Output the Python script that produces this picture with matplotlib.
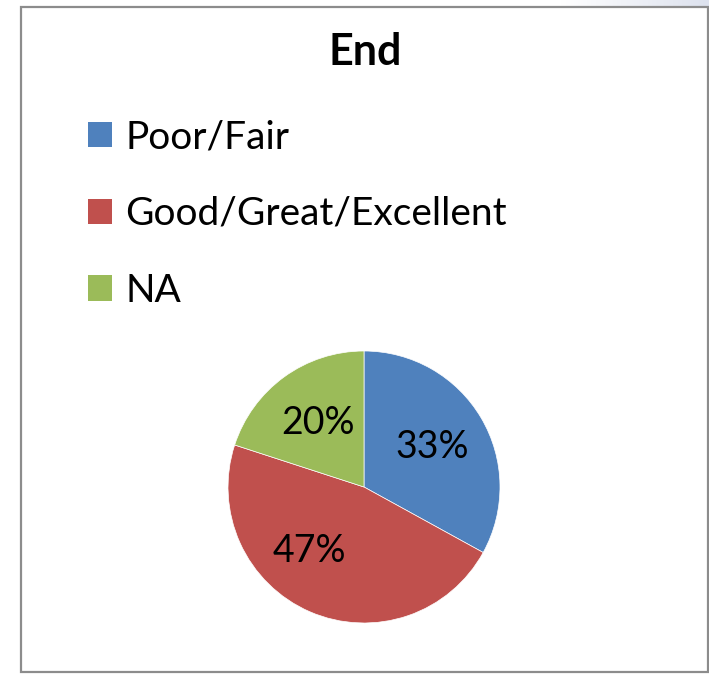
import numpy as np
import matplotlib.pyplot as plt
from matplotlib.patches import Rectangle, Patch
from matplotlib.colors import LinearSegmentedColormap

# Ratings at the end
categories = ['Poor/Fair', 'Good/Great/Excellent', 'NA']
shares = [33, 47, 20]
colors = ['#4F81BD', '#C0504D', '#9BBB59']
title = 'End'

plt.rcParams['font.family'] = ['Lato', 'DejaVu Sans']

W, H = 709, 674
fig = plt.figure(figsize=(W / 100, H / 100), dpi=100)
fig.patch.set_facecolor('white')

# faint shading along the top right corner
shade = fig.add_axes([560 / W, 1 - 6 / H, 149 / W, 6 / H])
cmap = LinearSegmentedColormap.from_list('shade', ['#ffffff', '#dde2ee'])
shade.imshow(np.linspace(0, 1, 100)[None, :], aspect='auto', cmap=cmap)
shade.axis('off')

# chart frame
fig.patches.append(Rectangle((20.5 / W, 2 / H), 687 / W, 665 / H, transform=fig.transFigure,
                             fill=False, edgecolor='#8c8c8c', linewidth=1.6))

fig.text(365 / W, 1 - 65 / H, title, ha='center', va='baseline',
         fontsize=31, fontweight='bold')

# pie
ax = fig.add_axes([228 / W, 51 / H, 272 / W, 272 / H])
wedges, texts, autotexts = ax.pie(shares, colors=colors, startangle=90, counterclock=False,
                                  radius=1, autopct=lambda p: f'{p:.0f}%', pctdistance=0.58,
                                  textprops=dict(fontsize=27, color='black'),
                                  wedgeprops=dict(linewidth=0.5, edgecolor='white'))
ax.set_xlim(-1, 1)
ax.set_ylim(-1, 1)
ax.set_aspect('equal')
ax.axis('off')

# the 47% label sits a bit further round in the red slice
autotexts[1].set_position((-0.40, -0.47))

handles = [Patch(facecolor=c, edgecolor='none') for c in colors]
fig.legend(handles, categories, loc='upper left', bbox_to_anchor=(88 / W, 1 - 119 / H),
           frameon=False, fontsize=28, handlelength=0.62, handleheight=0.62,
           handletextpad=0.34, labelspacing=1.05, borderaxespad=0, borderpad=0)

fig.savefig('out.png', dpi=100)
